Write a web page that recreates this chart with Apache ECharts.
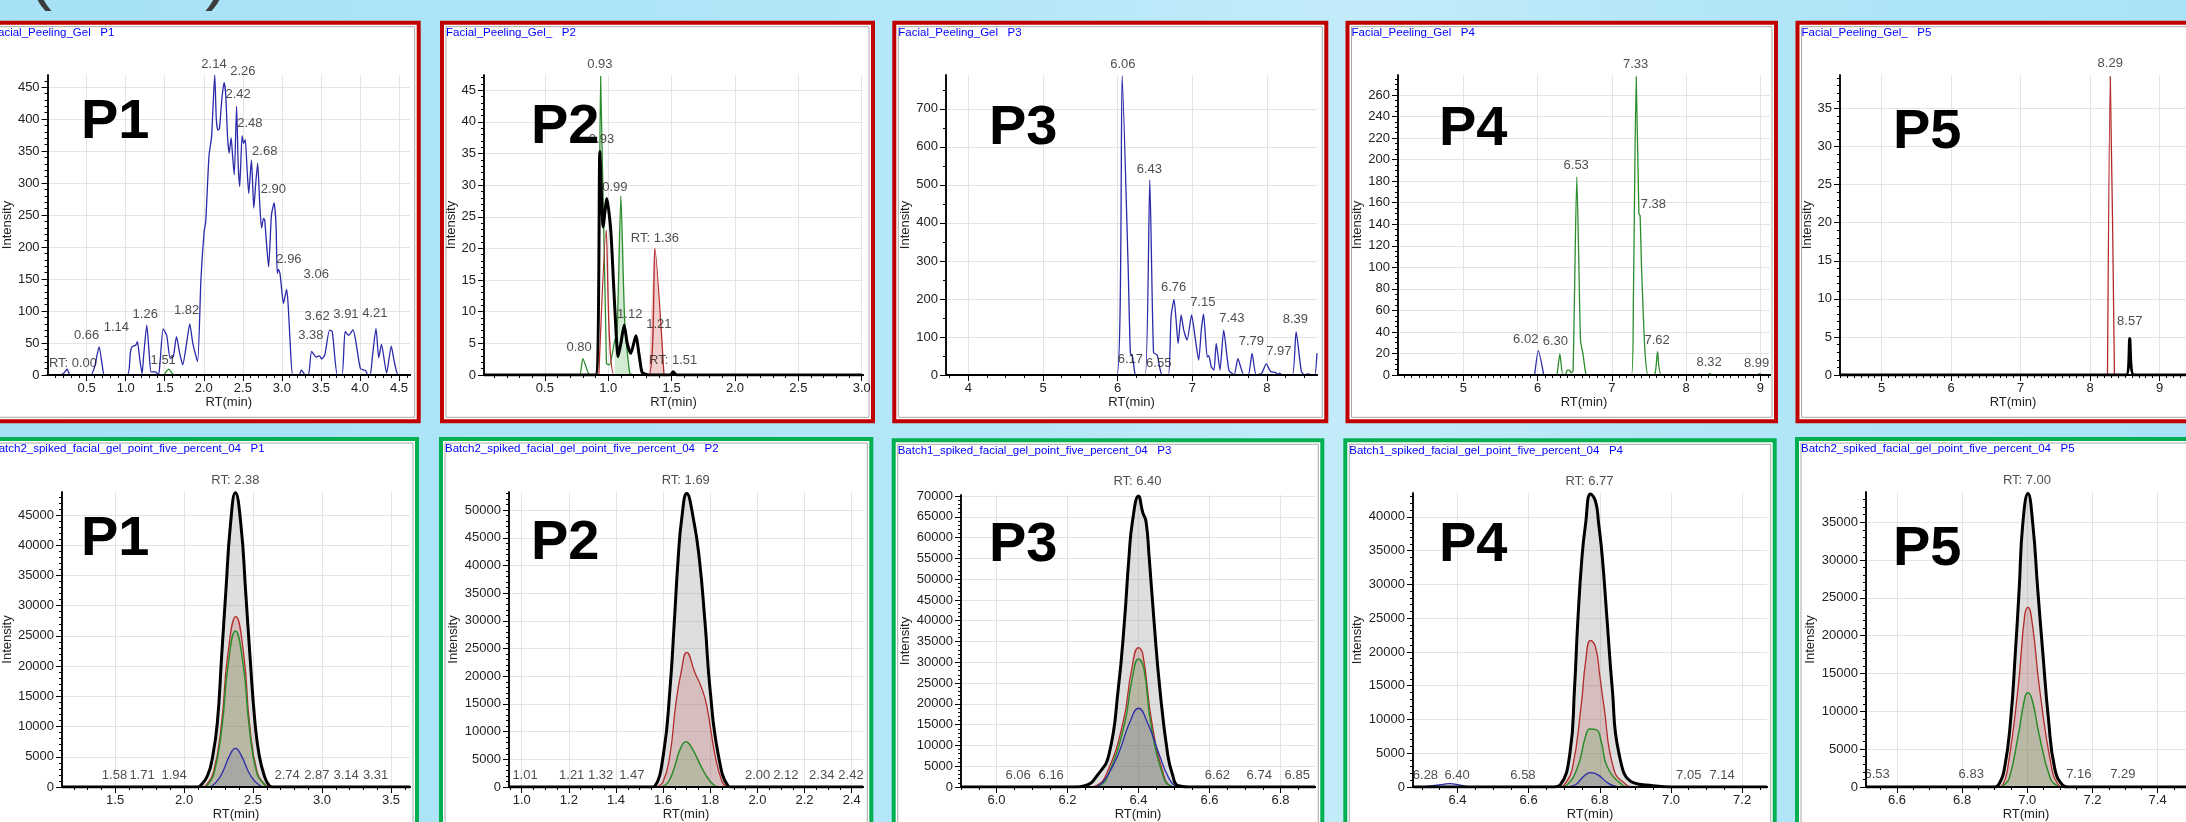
<!DOCTYPE html>
<html>
<head>
<meta charset="utf-8">
<script src="https://cdn.jsdelivr.net/npm/echarts@6/dist/echarts.min.js"></script>
<style>
  html, body { margin: 0; padding: 0; }
  #chart { width: 2186px; height: 822px; }
</style>
</head>
<body>
<div id="chart"></div>
<script>
// ---- top row: Facial_Peeling_Gel traces ([RT, intensity]) ----
const p1TopBlue = [[0.02,0],[0.12,0],[0.2,2],[0.25,9],[0.29,0],[0.55,0],[0.6,12],[0.66,44],[0.7,15],[0.73,0],[1.02,0],[1.06,35],[1.08,44],[1.13,47],[1.15,52],[1.18,25],[1.21,2],[1.23,30],[1.27,78],[1.3,35],[1.325,5],[1.38,5],[1.42,0],[1.44,20],[1.48,72],[1.525,62],[1.57,26],[1.61,29],[1.65,60],[1.69,35],[1.73,16],[1.78,50],[1.82,80],[1.86,49],[1.92,21],[1.963,149],[2.004,224],[2.025,240],[2.066,342],[2.10,373],[2.14,469],[2.16,400],[2.18,383],[2.20,385],[2.23,430],[2.26,457],[2.28,440],[2.305,370],[2.325,347],[2.35,371],[2.37,340],[2.39,313],[2.42,420],[2.44,330],[2.46,295],[2.49,374],[2.51,362],[2.53,368],[2.555,320],[2.575,284],[2.61,336],[2.625,300],[2.64,261],[2.665,300],[2.69,331],[2.715,270],[2.74,230],[2.765,245],[2.78,242],[2.80,210],[2.83,169],[2.866,250],[2.90,269],[2.925,234],[2.94,159],[2.955,165],[2.975,159],[3.0,130],[3.02,112],[3.06,134],[3.08,110],[3.11,40],[3.14,0],[3.22,0],[3.25,8],[3.3,0],[3.34,0],[3.38,37],[3.44,28],[3.48,30],[3.51,25],[3.55,32],[3.61,70],[3.645,68],[3.71,0],[3.77,0],[3.81,68],[3.855,62],[3.91,71],[3.95,50],[4.005,10],[4.07,7],[4.1,0],[4.13,0],[4.16,30],[4.205,73],[4.24,27],[4.275,48],[4.34,3],[4.40,45],[4.44,20],[4.49,0],[4.6,0]];
const p1TopGreen = [[1.49,0],[1.55,9],[1.61,0]];
const p1TopLabels = [['RT: 0.00',0.325,8],['0.66',0.50,52],['1.14',0.88,64],['1.26',1.25,84],['1.51',1.48,13],['1.82',1.78,91],['2.14',2.13,476],['2.26',2.50,464],['2.42',2.44,428],['2.48',2.59,383],['2.68',2.78,340],['2.90',2.89,280],['2.96',3.09,171],['3.06',3.44,147],['3.38',3.37,51],['3.62',3.45,82],['3.91',3.82,85],['4.21',4.19,86]];
const p1TopXTicks = [0.5,1.0,1.5,2.0,2.5,3.0,3.5,4.0,4.5];
const p1TopYTicks = [0,50,100,150,200,250,300,350,400,450];

const p2TopBlack = [[0.02,0],[0.9,0],[0.934,35.3],[0.96,23.4],[0.989,27.9],[1.02,22.9],[1.05,11.3],[1.078,2.9],[1.10,5],[1.126,7.9],[1.15,5],[1.178,3.4],[1.218,6.2],[1.245,3],[1.268,0.4],[1.32,0],[1.49,0],[1.512,0.5],[1.54,0],[3.0,0]];
const p2TopGreen = [[0.74,0],[0.776,0],[0.80,2.6],[0.855,0],[0.915,0],[0.94,47.2],[0.986,1.8],[1.01,1.6],[1.052,5.5],[1.07,6.6],[1.10,28.3],[1.13,8.4],[1.17,0.3],[1.2,0]];
const p2TopRed = [[0.926,0],[0.984,22.9],[1.047,0],[1.32,0],[1.368,20],[1.44,0]];
const p2TopLabels = [['0.93',0.934,48],['0.93',0.947,36.2],['0.99',1.052,28.6],['RT: 1.36',1.368,20.6],['1.12',1.17,8.6],['1.21',1.40,7],['0.80',0.77,3.3],['RT: 1.51',1.512,1.2]];
const p2TopXTicks = [0.5,1.0,1.5,2.0,2.5,3.0];
const p2TopYTicks = [0,5,10,15,20,25,30,35,40,45];

const p3TopBlue = [[3.7,0],[5.99,0],[6.06,787],[6.14,285],[6.17,57],[6.20,47],[6.23,4],[6.25,0],[6.37,0],[6.43,513],[6.48,59],[6.53,52],[6.57,13],[6.60,0],[6.68,0],[6.715,153],[6.755,199],[6.78,150],[6.81,83],[6.85,158],[6.885,118],[6.93,92],[6.99,158],[7.03,109],[7.085,39],[7.12,118],[7.15,160],[7.20,47],[7.22,51],[7.255,21],[7.29,13],[7.32,83],[7.37,13],[7.42,118],[7.49,13],[7.56,0],[7.61,43],[7.69,0],[7.75,0],[7.80,57],[7.855,0],[7.93,5],[7.99,29],[8.05,9],[8.11,7],[8.15,2],[8.17,5],[8.2,0],[8.34,0],[8.39,114],[8.46,10],[8.5,0],[8.55,3],[8.6,0],[8.64,0],[8.67,57]];
const p3TopLabels = [['6.06',6.07,801],['6.43',6.425,524],['6.17',6.17,24],['6.55',6.55,13],['6.76',6.75,213],['7.15',7.14,173],['7.43',7.53,132],['7.79',7.79,71],['7.97',8.16,44],['8.39',8.38,128]];
const p3TopXTicks = [4,5,6,7,8];
const p3TopYTicks = [0,100,200,300,400,500,600,700];

const p4TopBlue = [[5.96,0],[6.01,22.6],[6.083,0]];
const p4TopGreen = [[6.263,0],[6.30,19.5],[6.34,0],[6.38,1],[6.40,4.6],[6.43,4.6],[6.45,2],[6.478,4],[6.528,184],[6.578,32],[6.61,20],[6.65,1],[6.68,0],[7.265,0],[7.29,70],[7.328,277],[7.364,150],[7.38,148],[7.40,100],[7.445,23],[7.49,0],[7.58,1],[7.616,21.7],[7.67,0],[8.29,0],[8.32,1.5],[8.35,0],[8.96,0],[8.99,1.2],[9.02,0]];
const p4TopLabels = [['6.02',5.84,27],['6.30',6.24,25],['6.53',6.52,189],['7.33',7.32,282],['7.38',7.56,152],['7.62',7.61,26],['8.32',8.31,6],['8.99',8.95,5]];
const p4TopXTicks = [5,6,7,8,9];
const p4TopYTicks = [0,20,40,60,80,100,120,140,160,180,200,220,240,260];

const p5TopRed = [[8.25,0],[8.29,39.2],[8.35,0]];
const p5TopBlack = [[4.4,0],[8.52,0],[8.57,4.8],[8.63,0],[9.38,0]];
const p5TopLabels = [['8.29',8.29,40.1],['8.57',8.57,6.2]];
const p5TopXTicks = [5,6,7,8,9];
const p5TopYTicks = [0,5,10,15,20,25,30,35];

// ---- bottom row: spiked facial gel traces ----
const p1BotBlack = [[1.115,0],[2.10,0],[2.118,200],[2.17,1900],[2.208,5180],[2.241,10640],[2.272,21550],[2.303,32460],[2.336,43370],[2.372,48660],[2.412,43370],[2.446,32460],[2.478,21550],[2.514,10640],[2.545,5180],[2.581,1900],[2.617,200],[2.64,0],[3.638,0]];
const p1BotRed = [[2.14,0],[2.16,300],[2.213,2450],[2.272,10640],[2.315,21550],[2.375,28200],[2.434,21550],[2.474,10640],[2.53,2450],[2.59,300],[2.61,0]];
const p1BotGreen = [[2.15,0],[2.17,300],[2.218,2300],[2.275,10000],[2.318,20000],[2.372,25800],[2.43,20000],[2.472,10000],[2.527,2300],[2.585,300],[2.6,0]];
const p1BotBlue = [[2.18,0],[2.208,300],[2.25,1300],[2.284,2700],[2.33,5200],[2.372,6380],[2.415,5200],[2.463,2700],[2.5,1300],[2.546,300],[2.57,0]];
const p1BotLabels = [['RT: 2.38',2.372,49640],['1.58',1.495,820],['1.71',1.695,820],['1.94',1.928,820],['2.74',2.747,820],['2.87',2.963,820],['3.14',3.175,820],['3.31',3.389,820]];
const p1BotXTicks = [1.5,2.0,2.5,3.0,3.5];
const p1BotYTicks = [0,5000,10000,15000,20000,25000,30000,35000,40000,45000];

const p2BotBlack = [[0.946,0],[1.55,0],[1.565,150],[1.601,5820],[1.629,17670],[1.647,29540],[1.664,41400],[1.679,48520],[1.70,52970],[1.728,48520],[1.753,41400],[1.778,29540],[1.799,17670],[1.834,5820],[1.876,150],[1.89,0],[2.448,0]];
const p2BotRed = [[1.57,0],[1.60,1000],[1.629,5820],[1.653,14710],[1.676,20640],[1.70,24320],[1.735,20640],[1.765,17670],[1.785,14710],[1.82,5820],[1.85,1000],[1.87,0]];
const p2BotGreen = [[1.59,0],[1.62,800],[1.647,3440],[1.672,6800],[1.696,8185],[1.725,6800],[1.764,3440],[1.80,1000],[1.828,0]];
const p2BotLabels = [['RT: 1.69',1.696,54150],['1.01',1.014,890],['1.21',1.212,890],['1.32',1.335,890],['1.47',1.467,890],['2.00',2.001,890],['2.12',2.121,890],['2.34',2.273,890],['2.42',2.397,890]];
const p2BotXTicks = [1.0,1.2,1.4,1.6,1.8,2.0,2.2,2.4];
const p2BotYTicks = [0,5000,10000,15000,20000,25000,30000,35000,40000,45000,50000];

const p3BotBlack = [[5.9,0],[6.22,0],[6.249,300],[6.287,3170],[6.317,7900],[6.343,23670],[6.36,39460],[6.373,55250],[6.383,63920],[6.40,70000],[6.412,66000],[6.421,63920],[6.43,55250],[6.444,39460],[6.46,23670],[6.482,7900],[6.495,3170],[6.512,300],[6.54,0],[6.897,0]];
const p3BotRed = [[6.26,0],[6.28,300],[6.31,3170],[6.357,15790],[6.38,28000],[6.40,33550],[6.412,32000],[6.437,15790],[6.47,3170],[6.49,300],[6.51,0]];
const p3BotGreen = [[6.27,0],[6.29,300],[6.315,3000],[6.36,15000],[6.382,26000],[6.40,30780],[6.415,28500],[6.435,15000],[6.468,3000],[6.488,300],[6.505,0]];
const p3BotBlue = [[6.27,0],[6.287,300],[6.31,2370],[6.343,7900],[6.375,15500],[6.40,18940],[6.425,15500],[6.458,7900],[6.484,2370],[6.503,300],[6.52,0]];
const p3BotLabels = [['RT: 6.40',6.397,71830],['6.06',6.061,1180],['6.16',6.154,1180],['6.62',6.622,1180],['6.74',6.74,1180],['6.85',6.847,1180]];
const p3BotXTicks = [6.0,6.2,6.4,6.6,6.8];
const p3BotYTicks = [0,5000,10000,15000,20000,25000,30000,35000,40000,45000,50000,55000,60000,65000,70000];

const p4BotBlack = [[6.275,0],[6.67,0],[6.689,300],[6.716,4950],[6.729,14650],[6.738,24360],[6.75,34070],[6.76,38920],[6.774,43390],[6.788,42320],[6.797,38920],[6.807,34070],[6.821,24360],[6.835,14650],[6.854,4950],[6.896,600],[6.95,200],[7.0,0],[7.27,0]];
const p4BotRed = [[6.69,0],[6.70,300],[6.722,2520],[6.748,12230],[6.76,18500],[6.774,21700],[6.788,20730],[6.80,16500],[6.811,12230],[6.84,2520],[6.875,300],[6.89,0]];
const p4BotGreen = [[6.69,0],[6.708,300],[6.738,3000],[6.76,7500],[6.772,8590],[6.79,8500],[6.805,6500],[6.821,3000],[6.863,300],[6.88,0]];
const p4BotBlue = [[6.30,0],[6.36,400],[6.38,500],[6.40,350],[6.44,0],[6.70,0],[6.73,300],[6.755,1600],[6.774,2130],[6.795,1800],[6.82,700],[6.84,150],[6.86,0]];
const p4BotLabels = [['RT: 6.77',6.771,44270],['6.28',6.31,820],['6.40',6.399,820],['6.58',6.584,820],['7.05',7.05,820],['7.14',7.144,820]];
const p4BotXTicks = [6.4,6.6,6.8,7.0,7.2];
const p4BotYTicks = [0,5000,10000,15000,20000,25000,30000,35000,40000];

const p5BotBlack = [[6.505,0],[6.90,0],[6.912,300],[6.93,2490],[6.949,8930],[6.963,17530],[6.975,26110],[6.986,34700],[7.002,38790],[7.017,34700],[7.032,26110],[7.048,17530],[7.065,8930],[7.084,2490],[7.107,300],[7.125,0],[7.487,0]];
const p5BotRed = [[6.91,0],[6.925,300],[6.94,2490],[6.972,13220],[6.992,22680],[7.002,23750],[7.016,21390],[7.037,13220],[7.075,2490],[7.095,300],[7.11,0]];
const p5BotGreen = [[6.92,0],[6.93,300],[6.945,1200],[6.972,6780],[6.993,11900],[7.002,12450],[7.015,11500],[7.037,6780],[7.07,1200],[7.09,200],[7.1,0]];
const p5BotLabels = [['RT: 7.00',6.999,39640],['6.53',6.539,770],['6.83',6.828,770],['7.16',7.158,770],['7.29',7.293,770]];
const p5BotXTicks = [6.6,6.8,7.0,7.2,7.4];
const p5BotYTicks = [0,5000,10000,15000,20000,25000,30000,35000];

const FONT = '"Liberation Sans", Arial, sans-serif';
const RED = '#c00000', GREEN = '#00b050';
const cBlue = '#2a2aaa', cGreen = '#2a8c2a', cRed = '#b22a2a';

function line(data, color, width, smooth) { return { data, color, width, smooth }; }
function fill(data, color, opacity, smooth) { return { data, color, width: 0, area: color, ao: opacity, smooth }; }
function bottomTraces(black, red, green, blue) {
  const t = [fill(black, '#999999', 0.32, 0.5)];
  t.push(Object.assign(line(red, cRed, 1.3, 0.5), { area: '#c04040', ao: 0.2 }));
  t.push(Object.assign(line(green, cGreen, 1.5, 0.5), { area: '#40a040', ao: 0.2 }));
  if (blue) t.push(Object.assign(line(blue, cBlue, 1.3, 0.5), { area: '#4050a0', ao: 0.15 }));
  t.push(line(black, '#000', 3, 0.5));
  return t;
}

const panels = [
  { title: 'Facial_Peeling_Gel   P1', box: [-15, 20.7, 420.7, 423.3], ty: 33, border: RED, tag: 'P1', tagPos: [81, 123],
    grid: [39, 75, 371, 300], x: [0, 4.64], yMax: 469, xt: p1TopXTicks, yt: p1TopYTicks, xs: 5, ys: 5, dec: 1, gapY: 30,
    traces: [line(p1TopBlue, cBlue, 1.3, 0.2), line(p1TopGreen, cGreen, 1.3, 0.2)], labels: p1TopLabels },
  { title: 'Facial_Peeling_Gel_   P2', box: [440, 20.7, 875, 423.3], ty: 33, border: RED, tag: 'P2', tagPos: [531, 128],
    grid: [484, 75, 379, 300], x: [0.02, 3.01], yMax: 47.4, xt: p2TopXTicks, yt: p2TopYTicks, xs: 5, ys: 5, dec: 1, gapY: 23,
    traces: [fill(p2TopRed.filter(p => p[0] >= 1.3), '#d06060', 0.3, 0.2), fill(p2TopGreen.filter(p => p[0] >= 1.04), '#50b050', 0.25, 0.2),
             line(p2TopGreen, cGreen, 1.3, 0.2), line(p2TopRed, cRed, 1.3, 0.2), line(p2TopBlack, '#000', 3, 0.2)], labels: p2TopLabels },
  { title: 'Facial_Peeling_Gel   P3', box: [892.3, 20.7, 1328.3, 423.3], ty: 33, border: RED, tag: 'P3', tagPos: [989, 129],
    grid: [946, 75, 371, 300], x: [3.70, 8.67], yMax: 789, xt: p3TopXTicks, yt: p3TopYTicks, xs: 4, ys: 2, dec: 0, gapY: 34,
    traces: [line(p3TopBlue, cBlue, 1.3, 0.2)], labels: p3TopLabels },
  { title: 'Facial_Peeling_Gel   P4', box: [1345.5, 20.7, 1778, 423.3], ty: 33, border: RED, tag: 'P4', tagPos: [1439, 130],
    grid: [1398, 75, 372, 300], x: [4.12, 9.13], yMax: 278.6, xt: p4TopXTicks, yt: p4TopYTicks, xs: 10, ys: 4, dec: 0, gapY: 32,
    traces: [line(p4TopBlue, cBlue, 1.3, 0.2), line(p4TopGreen, cGreen, 1.3, 0.2)], labels: p4TopLabels },
  { title: 'Facial_Peeling_Gel_   P5', box: [1795.5, 20.7, 2231, 423.3], ty: 33, border: RED, tag: 'P5', tagPos: [1893, 133],
    grid: [1840, 75, 378, 300], x: [4.40, 9.38], yMax: 39.4, xt: p5TopXTicks, yt: p5TopYTicks, xs: 10, ys: 5, dec: 0, gapY: 24,
    traces: [line(p5TopRed, cRed, 1.3, 0.2), line(p5TopBlack, '#000', 3, 0.2)], labels: p5TopLabels },

  { title: 'Batch2_spiked_facial_gel_point_five_percent_04   P1', box: [-15, 437, 419, 860], ty: 449, border: GREEN, tag: 'P1', tagPos: [81, 540],
    grid: [56, 492, 354, 298], x: [1.115, 3.638], yMax: 48800, xt: p1BotXTicks, yt: p1BotYTicks, xs: 5, ys: 5, dec: 1, gapY: 46,
    traces: bottomTraces(p1BotBlack, p1BotRed, p1BotGreen, p1BotBlue), labels: p1BotLabels },
  { title: 'Batch2_spiked_facial_gel_point_five_percent_04   P2', box: [439, 437, 873.3, 860], ty: 449.3, border: GREEN, tag: 'P2', tagPos: [531, 544],
    grid: [509, 492, 354, 299], x: [0.946, 2.448], yMax: 53260, xt: p2BotXTicks, yt: p2BotYTicks, xs: 4, ys: 5, dec: 1, gapY: 49,
    traces: bottomTraces(p2BotBlack, p2BotRed, p2BotGreen, null), labels: p2BotLabels },
  { title: 'Batch1_spiked_facial_gel_point_five_percent_04   P3', box: [891.7, 438.3, 1324.3, 860], ty: 450.7, border: GREEN, tag: 'P3', tagPos: [989, 546],
    grid: [961, 495, 354, 297], x: [5.90, 6.897], yMax: 70240, xt: p3BotXTicks, yt: p3BotYTicks, xs: 4, ys: 5, dec: 1, gapY: 49,
    traces: bottomTraces(p3BotBlack, p3BotRed, p3BotGreen, p3BotBlue), labels: p3BotLabels },
  { title: 'Batch1_spiked_facial_gel_point_five_percent_04   P4', box: [1343.3, 438.3, 1776.7, 860], ty: 450.7, border: GREEN, tag: 'P4', tagPos: [1439, 546],
    grid: [1413, 493, 354, 299], x: [6.275, 7.27], yMax: 43540, xt: p4BotXTicks, yt: p4BotYTicks, xs: 4, ys: 5, dec: 1, gapY: 49,
    traces: bottomTraces(p4BotBlack, p4BotRed, p4BotGreen, p4BotBlue), labels: p4BotLabels },
  { title: 'Batch2_spiked_facial_gel_point_five_percent_04   P5', box: [1795, 437, 2231, 860], ty: 449.3, border: GREEN, tag: 'P5', tagPos: [1893, 550],
    grid: [1866, 492, 352, 302], x: [6.505, 7.487], yMax: 38990, xt: p5BotXTicks, yt: p5BotYTicks, xs: 4, ys: 5, dec: 1, gapY: 49,
    traces: bottomTraces(p5BotBlack, p5BotRed, p5BotGreen, null), labels: p5BotLabels }
];

function minorTicks(t, n, lo, hi) {
  const step = (t[1] - t[0]) / n, out = [];
  const k0 = Math.ceil((lo - t[0]) / step - 1e-9), k1 = Math.floor((hi - t[0]) / step + 1e-9);
  for (let k = k0; k <= k1; k++) {
    if (((k % n) + n) % n === 0) continue;
    out.push(+(t[0] + k * step).toFixed(6));
  }
  return out;
}

const option = {
  animation: false,
  textStyle: { fontFamily: FONT },
  grid: [], xAxis: [], yAxis: [], series: [],
  graphic: { elements: [] }
};
const G = option.graphic.elements;

G.push({ type: 'rect', z: -100, shape: { x: 0, y: 0, width: 2186, height: 822 },
  style: { fill: { type: 'linear', x: 0, y: 0, x2: 1, y2: 0, colorStops: [
    { offset: 0, color: '#a6e1f6' }, { offset: 0.45, color: '#b4e7f9' }, { offset: 0.62, color: '#c3ecfa' },
    { offset: 0.78, color: '#b2e6f8' }, { offset: 1, color: '#aae3f7' }] } } });
G.push({ type: 'text', z: -90, x: 28, y: 12, style: { text: '(', font: '72px ' + FONT, fill: '#3c3c3c', verticalAlign: 'bottom' } });
G.push({ type: 'text', z: -90, x: 205, y: 12, style: { text: ')', font: '72px ' + FONT, fill: '#3c3c3c', verticalAlign: 'bottom' } });

const axisText = { fontSize: 13, color: '#222', fontFamily: FONT };

panels.forEach((p, i) => {
  const [L, T, R, B] = p.box;
  G.push({ type: 'rect', z: -50, shape: { x: L + 2, y: T + 2, width: R - L - 4, height: B - T - 4 },
    style: { fill: '#fff', stroke: p.border, lineWidth: 4 } });
  G.push({ type: 'rect', z: -49, shape: { x: L + 6, y: T + 6, width: R - L - 12, height: B - T - 12 },
    style: { fill: 'none', stroke: '#a8a8a8', lineWidth: 1 } });
  G.push({ type: 'text', z: 60, x: L + 6, y: p.ty, style: { text: p.title, fill: '#0000ff', font: '11.5px ' + FONT, verticalAlign: 'middle' } });
  G.push({ type: 'text', z: 100, x: p.tagPos[0], y: p.tagPos[1], style: { text: p.tag, fill: '#000', font: 'bold 56px ' + FONT, verticalAlign: 'middle' } });

  option.grid.push({ left: p.grid[0], top: p.grid[1], width: p.grid[2], height: p.grid[3] });
  const xi = option.xAxis.length, yi = option.yAxis.length;
  option.xAxis.push({
    type: 'value', gridIndex: i, min: p.x[0], max: p.x[1], position: 'bottom',
    name: 'RT(min)', nameLocation: 'middle', nameGap: 21, nameTextStyle: axisText,
    axisLine: { onZero: false, lineStyle: { color: '#000', width: 2 } },
    axisTick: { customValues: p.xt, length: 6, lineStyle: { color: '#000' } },
    axisLabel: Object.assign({ customValues: p.xt, margin: 7, formatter: v => v.toFixed(p.dec) }, axisText),
    splitLine: { show: true, lineStyle: { color: '#e4e4e4' } }
  });
  // overlay axis: minor ticks and an axis line drawn above the traces
  option.xAxis.push({
    type: 'value', gridIndex: i, min: p.x[0], max: p.x[1], position: 'bottom', z: 10,
    axisLine: { show: true, onZero: false, lineStyle: { color: '#000', width: 2 } },
    axisTick: { customValues: minorTicks(p.xt, p.xs, p.x[0], p.x[1]), length: 3, lineStyle: { color: '#000' } },
    axisLabel: { show: false }, splitLine: { show: false }
  });
  option.yAxis.push({
    type: 'value', gridIndex: i, min: 0, max: p.yMax, position: 'left',
    name: 'Intensity', nameLocation: 'middle', nameGap: p.gapY, nameTextStyle: axisText,
    axisLine: { show: true, onZero: false, lineStyle: { color: '#000', width: 1.5 } },
    axisTick: { show: true, customValues: p.yt, length: 6, lineStyle: { color: '#000' } },
    axisLabel: Object.assign({ customValues: p.yt, margin: 8, formatter: v => String(v) }, axisText),
    splitLine: { show: true, lineStyle: { color: '#e4e4e4' } }
  });
  option.yAxis.push({
    type: 'value', gridIndex: i, min: 0, max: p.yMax, position: 'left', z: 10,
    axisLine: { show: true, onZero: false, lineStyle: { color: '#000', width: 1.5 } },
    axisTick: { show: true, customValues: minorTicks(p.yt, p.ys, 0, p.yMax), length: 3, lineStyle: { color: '#000' } },
    axisLabel: { show: false }, splitLine: { show: false }
  });

  p.traces.forEach(tr => {
    option.series.push({
      type: 'line', xAxisIndex: xi, yAxisIndex: yi, data: tr.data, showSymbol: false, symbol: 'none',
      smooth: tr.smooth, silent: true, z: 2,
      lineStyle: { color: tr.color, width: tr.width },
      areaStyle: tr.area ? { color: tr.area, opacity: tr.ao } : undefined
    });
  });
  option.series.push({
    type: 'scatter', xAxisIndex: xi, yAxisIndex: yi, symbolSize: 0, clip: false, silent: true, z: 5,
    data: p.labels.map(l => ({ name: l[0], value: [l[1], l[2]] })),
    label: { show: true, position: 'top', distance: 0, formatter: '{b}', fontSize: 13, color: '#222', fontFamily: FONT }
  });
});

const chart = echarts.init(document.getElementById('chart'), null, { renderer: 'canvas' });
chart.setOption(option);
</script>
</body>
</html>
